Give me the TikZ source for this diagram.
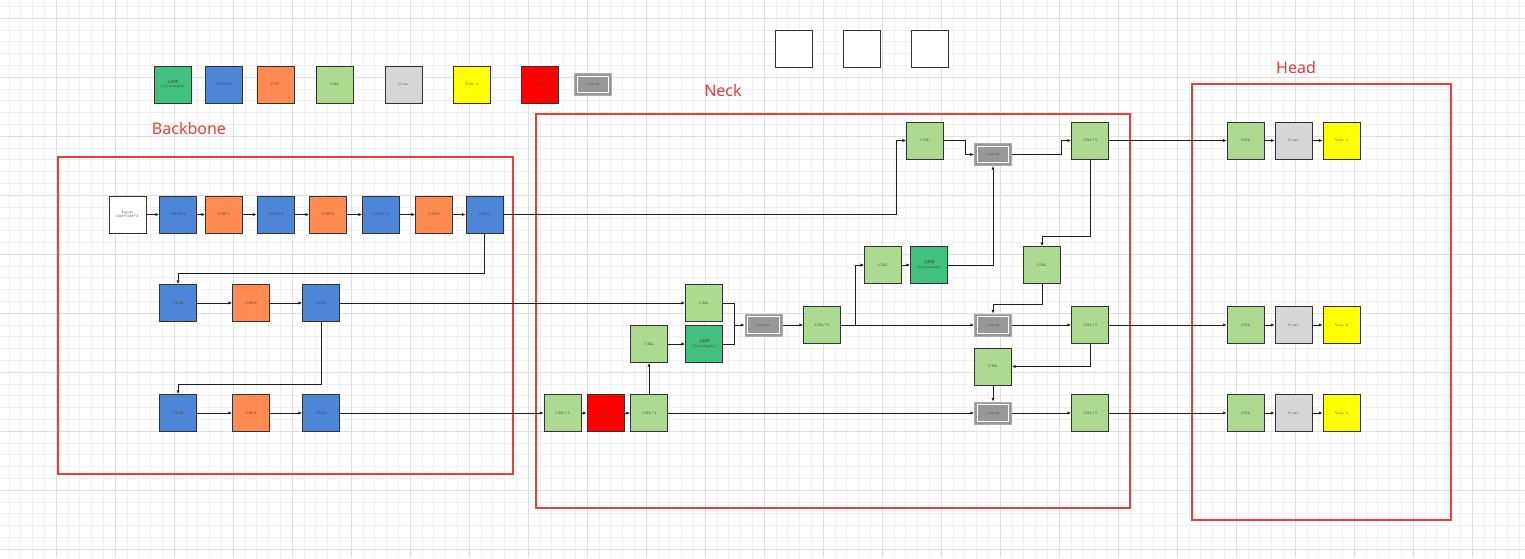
\documentclass[tikz,border=0pt]{standalone}
\usepackage{fontspec}
\newfontfamily\labfont{Noto Sans}
\newfontfamily\cjk{Noto Sans CJK SC}
\usetikzlibrary{arrows.meta}
\definecolor{cblue}{HTML}{4E86D7}
\definecolor{corange}{HTML}{FF8A52}
\definecolor{clgreen}{HTML}{ACDA90}
\definecolor{cdgreen}{HTML}{41C07F}
\definecolor{cconv}{HTML}{D6D6D6}
\definecolor{cyellow}{HTML}{FFFF00}
\definecolor{cred}{HTML}{FF0000}
\definecolor{ccat}{HTML}{979797}
\definecolor{cframe}{HTML}{EE3B3B}
\definecolor{cborder}{HTML}{333333}
\definecolor{gminor}{HTML}{F0F0F0}
\definecolor{gmajor}{HTML}{DEDEDE}
\tikzset{
  blk/.style={draw=cborder, line width=0.9pt, minimum width=37pt, minimum height=37pt, inner sep=0pt,
    font=\fontsize{3.6}{4.4}\selectfont, text=black!75, align=center},
  blue/.style={blk, fill=cblue},
  orange/.style={blk, fill=corange},
  lgreen/.style={blk, fill=clgreen},
  dgreen/.style={blk, fill=cdgreen},
  convbox/.style={blk, fill=cconv},
  yolobox/.style={blk, fill=cyellow},
  sppbox/.style={blk, fill=cred},
  whitebox/.style={blk, fill=white},
  catbox/.style={draw=ccat!80, line width=1pt, fill=ccat, minimum width=37pt, minimum height=22pt, inner sep=0pt,
    font=\fontsize{3.6}{4.4}\selectfont, text=black!70,
    path picture={\draw[white,line width=0.9pt] ([shift={(2.6pt,-2.6pt)}]path picture bounding box.north west) rectangle ([shift={(-2.6pt,2.6pt)}]path picture bounding box.south east);}},
  conn/.style={draw=black!88, line width=0.9pt},
  arr/.style={conn, -{Latex[length=3.6pt,width=3.2pt]}},
  frame/.style={draw=cframe, line width=2.4pt},
  lab/.style={text=cframe, font=\labfont\fontsize{16}{18}\selectfont}
}
\begin{document}
\begin{tikzpicture}[x=1pt,y=-1pt]
\useasboundingbox (0,0) rectangle (1525,558);
\fill[white] (0,0) rectangle (1525,558);
% grid
\foreach \i in {0,...,130} {\draw[gminor, line width=0.6pt] ({-3+11.8*\i},0) -- ({-3+11.8*\i},558);}
\foreach \i in {0,...,52} {\draw[gminor, line width=0.6pt] (0,{-41+11.8*\i}) -- (1525,{-41+11.8*\i});}
\foreach \i in {0,...,26} {\draw[gmajor, line width=0.8pt] ({-3+59*\i},0) -- ({-3+59*\i},558);}
\foreach \i in {0,...,10} {\draw[gmajor, line width=0.8pt] (0,{-41+59*\i}) -- (1525,{-41+59*\i});}

% frames
\draw[frame] (58,157) rectangle (513,474);
\draw[frame] (536,114) rectangle (1130,508);
\draw[frame] (1192,84) rectangle (1451,520);
\node[lab] (tb) at (189,128) {Backbone};
\node[lab] (tn) at (723,90) {Neck};
\node[lab] (th) at (1296,67) {Head};

% legend
\node[dgreen] (upL) at (172.5,84.5) {{\cjk 上采样}\\(Upsample)};
\node[blue] (bluL) at (223.5,84.5) {CBM*2};
\node[orange] (oraL) at (275.5,84.5) {CSP};
\node[lgreen] (cblL) at (334.5,84.5) {CBL};
\node[convbox] (convL) at (403.5,84.5) {Conv};
\node[yolobox] (yoloL) at (471.5,84.5) {Yolo 1};
\node[sppbox] (sppL) at (539.5,84.5) {SPP};
\node[catbox] (catL) at (593,84.5) {concat};

% empty boxes
\node[whitebox] (e1) at (793.5,48.5) {};
\node[whitebox] (e2) at (861.5,48.5) {};
\node[whitebox] (e3) at (929.5,48.5) {};

% backbone row 1
\node[whitebox] (in) at (127.5,214.5) {Input\\608*608*3};
\node[blue] (b1) at (178,214.5) {CBM*2};
\node[orange] (c1) at (224,214.5) {CSP1};
\node[blue] (b2) at (275.5,214.5) {CBM*2};
\node[orange] (c2) at (328,214.5) {CSP2};
\node[blue] (b3) at (381,214.5) {CBM*2};
\node[orange] (c3) at (434,214.5) {CSP8};
\node[blue] (b4) at (484.5,214.5) {CBM};
% row 2
\node[blue] (b5) at (178,303) {CBM};
\node[orange] (c4) at (251,303) {CSP8};
\node[blue] (b6) at (321,303) {CBM};
% row 3
\node[blue] (b7) at (178,413) {CBM};
\node[orange] (c5) at (251,413) {CSP4};
\node[blue] (b8) at (321,413) {CBM};

% neck
\node[lgreen] (cbl3a) at (562.5,413) {CBL*3};
\node[sppbox] (spp) at (605.5,413) {SPP};
\node[lgreen] (cbl3b) at (649,413) {CBL*3};
\node[lgreen] (cblA) at (649,344) {CBL};
\node[dgreen] (up1) at (704,344) {{\cjk 上采样}\\(Upsample)};
\node[lgreen] (cblB) at (704,303) {CBL};
\node[catbox] (cat1) at (763.5,325) {concat};
\node[lgreen] (cbl5a) at (822,325) {CBL*5};
\node[lgreen] (cblC) at (883,265) {CBL};
\node[dgreen] (up2) at (929,265) {{\cjk 上采样}\\(Upsample)};
\node[lgreen] (cblD) at (925,140.5) {CBL};
\node[catbox] (cat2) at (993,154.5) {concat};
\node[lgreen] (cbl5b) at (1090,140.5) {CBL*5};
\node[lgreen] (cblE) at (1042,265) {CBL};
\node[catbox] (cat3) at (993,325) {concat};
\node[lgreen] (cbl5c) at (1090,325) {CBL*5};
\node[lgreen] (cblF) at (993,366.5) {CBL};
\node[catbox] (cat4) at (993,413) {concat};
\node[lgreen] (cbl5d) at (1090,413) {CBL*5};

% head
\node[lgreen] (hc1) at (1245.5,140.5) {CBL};
\node[convbox] (cv1) at (1293.5,140.5) {Conv};
\node[yolobox] (y1) at (1341.5,140.5) {Yolo 1};
\node[lgreen] (hc2) at (1245.5,325) {CBL};
\node[convbox] (cv2) at (1293.5,325) {Conv};
\node[yolobox] (y2) at (1341.5,325) {Yolo 2};
\node[lgreen] (hc3) at (1245.5,413) {CBL};
\node[convbox] (cv3) at (1293.5,413) {Conv};
\node[yolobox] (y3) at (1341.5,413) {Yolo 3};

% backbone connections
\draw[arr] (in) -- (b1);
\draw[arr] (b1) -- (c1);
\draw[arr] (c1) -- (b2);
\draw[arr] (b2) -- (c2);
\draw[arr] (c2) -- (b3);
\draw[arr] (b3) -- (c3);
\draw[arr] (c3) -- (b4);
\draw[arr] (b4.south) -- ++(0,40) -| (b5.north);
\draw[arr] (b5) -- (c4);
\draw[arr] (c4) -- (b6);
\draw[arr] (b6.south) -- ++(0,62) -| (b7.north);
\draw[arr] (b7) -- (c5);
\draw[arr] (c5) -- (b8);

% backbone to neck
\coordinate (k1) at (896,140.5);
\draw[arr] (b4.east) -| (k1) -- (cblD.west);
\draw[arr] (b6.east) -- (cblB.west);
\draw[arr] (b8.east) -- (cbl3a.west);

% neck connections
\draw[arr] (cbl3a) -- (spp);
\draw[arr] (spp) -- (cbl3b);
\draw[arr] (cbl3b) -- (cblA);
\draw[arr] (cblA) -- (up1);
\coordinate (j1) at (734.5,325);
\draw[conn] (cblB.east) -| (j1);
\draw[conn] (up1.east) -| (j1);
\draw[arr] (j1) -- (cat1.west);
\draw[arr] (cat1) -- (cbl5a);
\draw[arr] (cbl5a.east) -- (cat3.west);
\coordinate (j2) at (855,325);
\draw[arr] (j2) |- (cblC.west);
\draw[arr] (cblC) -- (up2);
\draw[arr] (up2.east) -| (cat2.south);
\draw[arr] (cblD.east) -- ++(21,0) |- (cat2.west);
\draw[arr] (cat2.east) -- ++(49,0) |- (cbl5b.west);
\draw[arr] (cbl5b.south) -- ++(0,77) -| (cblE.north);
\draw[arr] (cblE.south) -- ++(0,20) -| (cat3.north);
\draw[arr] (cat3) -- (cbl5c);
\draw[arr] (cbl5c.south) |- (cblF.east);
\draw[arr] (cblF) -- (cat4);
\draw[arr] (cbl3b.east) -- (cat4.west);
\draw[arr] (cat4) -- (cbl5d);

% neck to head
\draw[arr] (cbl5b) -- (hc1);
\draw[arr] (cbl5c) -- (hc2);
\draw[arr] (cbl5d) -- (hc3);
\draw[arr] (hc1) -- (cv1);
\draw[arr] (cv1) -- (y1);
\draw[arr] (hc2) -- (cv2);
\draw[arr] (cv2) -- (y2);
\draw[arr] (hc3) -- (cv3);
\draw[arr] (cv3) -- (y3);
\end{tikzpicture}
\end{document}
